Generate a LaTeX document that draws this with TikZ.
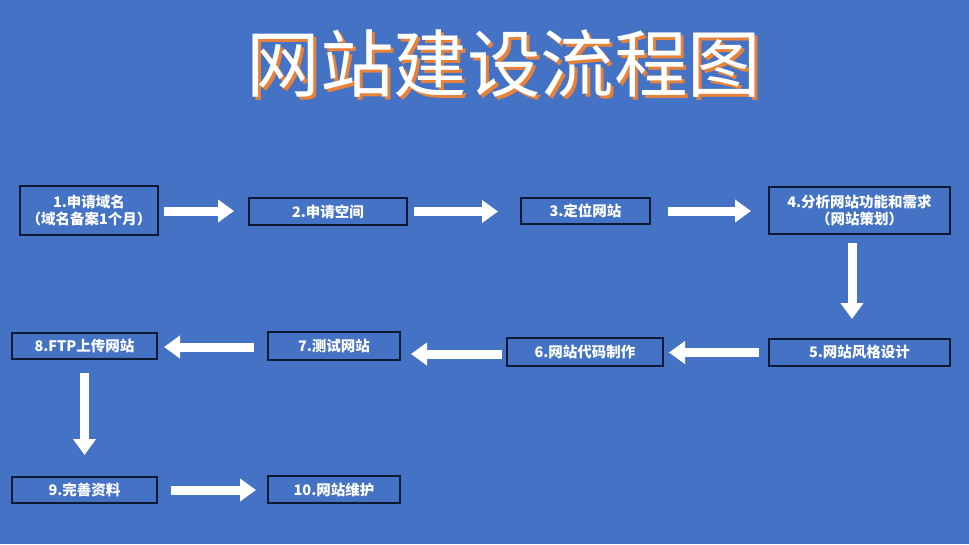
\documentclass[tikz,border=0pt]{standalone}
\usepackage{fontspec}
\newfontfamily\cjk{Noto Sans CJK SC}
\usetikzlibrary{arrows.meta}
\definecolor{bg}{HTML}{4472C4}
\definecolor{boxline}{HTML}{0E1A33}
\definecolor{shadoworange}{HTML}{E8823A}
\begin{document}
\begin{tikzpicture}[x=1pt,y=-1pt,
  box/.style={draw=boxline, line width=2pt, fill=bg, text=white,
    font=\cjk\bfseries\fontsize{14.5}{17}\selectfont, inner sep=0pt, align=center},
  flow/.style={draw=white, line width=9pt, -{Triangle[length=16pt,width=22pt,fill=white]}},
  titletext/.style={font=\cjk\fontsize{73.5}{80}\selectfont, inner sep=0pt}]
\fill[bg] (0,0) rectangle (969,544);
\useasboundingbox (0,0) rectangle (969,544);
% title (white text with orange offset shadow)
\node[titletext] (title) at (504,65)
  {\rlap{\kern3pt\raisebox{-3pt}{\color{shadoworange}网站建设流程图}}{\color{white}网站建设流程图}};
% boxes
\node[box, minimum width=138pt, minimum height=49pt] (n1) at (89,210.5) {1.申请域名\\（域名备案1个月）};
\node[box, minimum width=158pt, minimum height=27pt] (n2) at (328,211.5) {2.申请空间};
\node[box, minimum width=129pt, minimum height=26pt] (n3) at (585.5,211) {3.定位网站};
\node[box, minimum width=181pt, minimum height=47pt] (n4) at (859.5,210.5) {4.分析网站功能和需求\\（网站策划）};
\node[box, minimum width=181pt, minimum height=27pt] (n5) at (859.5,352.5) {5.网站风格设计};
\node[box, minimum width=156pt, minimum height=28pt] (n6) at (585,352) {6.网站代码制作};
\node[box, minimum width=132pt, minimum height=28pt] (n7) at (334,346) {7.测试网站};
\node[box, minimum width=145pt, minimum height=26pt] (n8) at (84.5,346) {8.FTP上传网站};
\node[box, minimum width=145pt, minimum height=26pt] (n9) at (84.5,490) {9.完善资料};
\node[box, minimum width=132pt, minimum height=27pt] (n10) at (334,489.5) {10.网站维护};
% arrows
\draw[flow, shorten <=5pt, shorten >=14pt] ([yshift=-0.5pt]n1.east) -- ([yshift=-0.5pt]n1.east -| n2.west);
\draw[flow, shorten <=6pt, shorten >=22pt] (n2.east) -- (n2.east -| n3.west);
\draw[flow, shorten <=17pt, shorten >=17pt] (n3.east) -- (n3.east -| n4.west);
\draw[flow, shorten <=8pt, shorten >=19pt] ([xshift=-7.5pt]n4.south) -- ([xshift=-7.5pt]n4.south |- n5.north);
\draw[flow, shorten <=9pt, shorten >=5pt] (n5.west) -- (n5.west -| n6.east);
\draw[flow, shorten <=4pt, shorten >=10pt] ([yshift=-2pt]n6.west) -- ([yshift=-2pt]n6.west -| n7.east);
\draw[flow, shorten <=13pt, shorten >=6pt] ([yshift=-1pt]n7.west) -- ([yshift=-1pt]n7.west -| n8.east);
\draw[flow, shorten <=13pt, shorten >=21pt] (n8.south) -- (n8.south |- n9.north);
\draw[flow, shorten <=13pt, shorten >=11pt] (n9.east) -- (n9.east -| n10.west);
\end{tikzpicture}
\end{document}
